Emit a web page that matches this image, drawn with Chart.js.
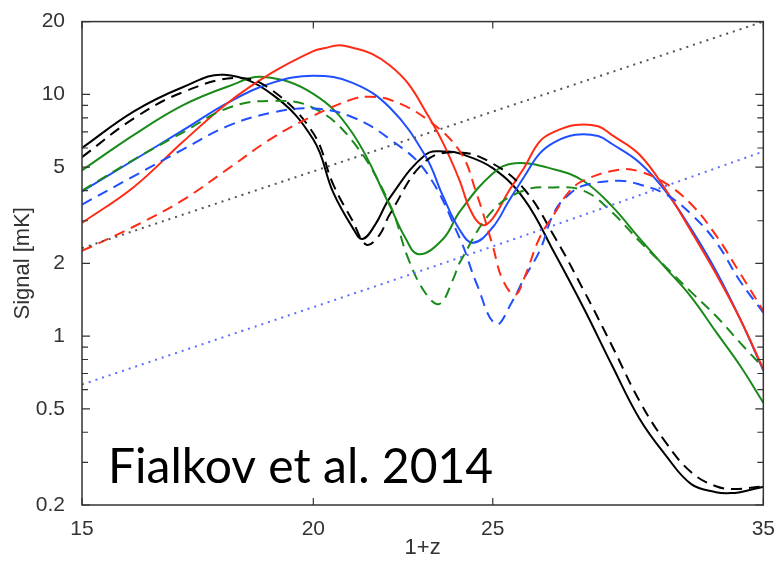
<!DOCTYPE html>
<html>
<head>
<meta charset="utf-8">
<script src="https://cdn.jsdelivr.net/npm/chart.js@4.4.1/dist/chart.umd.min.js"></script>
<style>
  html, body { margin: 0; padding: 0; background: #fff; }
  #wrap { width: 779px; height: 561px; }
</style>
</head>
<body>
<div id="wrap"><canvas id="my-chart" width="779" height="561"></canvas></div>
<script>
// tick labels
const xTicks = [15, 20, 25, 35];
const yTicks = [0.2, 0.5, 1, 2, 5, 10, 20];
const yMinorTicks = [0.3, 0.4, 0.6, 0.7, 0.8, 0.9, 3, 4, 6, 7, 8, 9];

// black
const blackSolidX = [15, 16, 17, 17.9, 19, 20, 20.5, 21, 21.26, 21.6, 22, 23, 23.6, 24, 25, 26, 27, 28, 29, 30, 31, 32, 33, 33.6, 34, 35];
const blackSolidY = [6.0, 8.5, 10.7, 12.05, 10.0, 6.5, 3.93, 2.81, 2.52, 2.89, 3.74, 5.64, 5.8, 5.69, 4.95, 3.68, 2.2, 1.3, 0.755, 0.456, 0.321, 0.244, 0.226, 0.224, 0.226, 0.238];
const blackDashX = [15, 16, 17, 18.2, 19, 20, 20.5, 21, 21.36, 21.7, 22, 23, 24, 25, 26, 27, 28, 29, 30, 31, 32, 33, 33.8, 35];
const blackDashY = [5.5, 7.96, 10.2, 11.7, 10.4, 6.9, 4.24, 3.0, 2.39, 2.6, 3.2, 5.3, 5.75, 5.17, 4.05, 2.57, 1.54, 0.91, 0.54, 0.363, 0.273, 0.239, 0.233, 0.239];

// green
const greenSolidX = [15, 16, 17, 18, 18.8, 20, 21, 22, 22.4, 22.8, 23.5, 24, 25, 25.7, 27, 28, 29, 30, 31, 32, 33, 34, 35];
const greenSolidY = [4.85, 6.8, 9.0, 10.8, 11.8, 10.05, 6.9, 3.45, 2.59, 2.18, 2.52, 3.28, 4.71, 5.19, 4.89, 4.37, 3.44, 2.54, 1.91, 1.45, 1.04, 0.755, 0.53];
const greenDashX = [15, 16, 17, 18, 19, 20, 21, 22, 22.5, 23, 23.4, 23.8, 24, 25, 26, 26.9, 28, 29, 30, 31, 32, 33, 34, 35];
const greenDashY = [4.0, 5.37, 6.95, 8.8, 9.4, 8.8, 6.4, 3.5, 2.1, 1.5, 1.36, 1.72, 2.02, 3.31, 4.01, 4.12, 3.99, 3.25, 2.47, 1.93, 1.52, 1.21, 0.94, 0.74];

// blue
const blueSolidX = [15, 16, 17, 18, 19, 20, 21, 22, 23, 23.5, 24, 24.4, 25, 25.5, 26, 26.5, 27, 27.7, 28.5, 29, 30, 31, 32, 33, 34, 35];
const blueSolidY = [3.97, 5.35, 7.09, 9.27, 11.16, 11.93, 11.16, 8.8, 5.53, 3.79, 2.74, 2.43, 2.82, 3.61, 4.57, 5.69, 6.35, 6.8, 6.72, 6.23, 5.23, 3.97, 2.77, 1.86, 1.18, 0.72];
const blueDashX = [15, 16, 17, 18, 19, 20, 21, 22, 23, 24, 24.5, 25.1, 25.6, 26, 26.5, 27, 27.5, 28, 29.25, 30, 31, 32, 33, 34, 35];
const blueDashY = [3.5, 4.59, 5.91, 7.42, 8.4, 8.74, 8.04, 6.52, 4.8, 2.53, 1.65, 1.12, 1.38, 1.74, 2.25, 3.28, 3.86, 4.2, 4.39, 4.24, 3.86, 3.19, 2.45, 1.69, 1.25];

// red
const redSolidX = [15, 16, 17, 18, 19, 20, 20.3, 20.65, 21, 21.5, 22, 22.5, 23, 23.5, 24, 24.3, 24.67, 25, 25.5, 26, 26.5, 27, 27.7, 28.5, 29, 30, 31, 32, 33, 34, 35];
const redSolidY = [2.94, 4.14, 6.35, 9.28, 12.3, 15.1, 15.56, 15.96, 15.6, 14.74, 13.16, 11.1, 8.48, 6.3, 4.37, 3.35, 2.88, 3.07, 3.97, 4.98, 6.38, 7.01, 7.47, 7.38, 6.78, 5.64, 4.03, 2.71, 1.81, 1.18, 0.73];
const redDashX = [15, 16, 17, 18, 19, 20, 21, 21.4, 22, 23, 24, 24.5, 25, 25.3, 25.7, 26, 26.5, 27, 27.5, 28, 29.25, 30, 31, 32, 33, 34, 35];
const redDashY = [2.25, 2.84, 3.65, 4.94, 6.59, 8.16, 9.56, 9.78, 9.5, 7.95, 5.8, 3.89, 2.36, 1.72, 1.48, 1.74, 2.55, 3.22, 3.97, 4.41, 4.88, 4.8, 4.28, 3.51, 2.61, 1.82, 1.27];

// dotted reference lines
const blackDotX = [15, 25, 35];
const blackDotY = [2.31, 8.48, 20];
const blueDotX = [15, 25, 35];
const blueDotY = [0.63, 2.35, 5.8];

const pts = (xs, ys) => xs.map((x, i) => ({ x: x, y: ys[i] }));

function line(xs, ys, color, dash, width) {
  return {
    data: pts(xs, ys),
    borderColor: color,
    borderWidth: width || 2,
    borderDash: dash || [],
    pointRadius: 0,
    fill: false,
    tension: 0.4,
  };
}

const DASH = [11, 7];
const DOT = [2, 5];

const boxPlugin = {
  id: "box",
  afterDatasetsDraw(chart) {
    const { ctx, chartArea: a, scales } = chart;
    ctx.save();
    ctx.strokeStyle = "#333";
    ctx.lineWidth = 1.5;
    ctx.strokeRect(a.left, a.top, a.right - a.left, a.bottom - a.top);
    ctx.lineWidth = 1.2;
    ctx.beginPath();
    yTicks.forEach((v) => {
      const y = scales.y.getPixelForValue(v);
      ctx.moveTo(a.left, y); ctx.lineTo(a.left + 8, y);
      ctx.moveTo(a.right, y); ctx.lineTo(a.right - 8, y);
    });
    yMinorTicks.forEach((v) => {
      const y = scales.y.getPixelForValue(v);
      ctx.moveTo(a.left, y); ctx.lineTo(a.left + 6, y);
      ctx.moveTo(a.right, y); ctx.lineTo(a.right - 6, y);
    });
    xTicks.forEach((v) => {
      const x = scales.x.getPixelForValue(v);
      ctx.moveTo(x, a.bottom); ctx.lineTo(x, a.bottom - 7);
      ctx.moveTo(x, a.top); ctx.lineTo(x, a.top + 7);
    });
    ctx.stroke();
    ctx.restore();
  },
  afterDraw(chart) {
    const ctx = chart.ctx;
    ctx.save();
    ctx.fillStyle = "#000";
    ctx.font = "48px Lato";
    ctx.textBaseline = "alphabetic";
    ctx.fillText("Fialkov et al. 2014", 108, 483);
    ctx.restore();
  },
};

const axisFont = { family: "Liberation Sans", size: 21 };
const titleFont = { family: "Liberation Sans", size: 22 };

new Chart(document.getElementById("my-chart"), {
  type: "line",
  data: {
    datasets: [
      line(blackDotX, blackDotY, "#555", DOT, 2),
      line(blueDotX, blueDotY, "#5b6cff", DOT, 2),
      line(redDashX, redDashY, "#ff2b14", DASH),
      line(blueDashX, blueDashY, "#1f4fff", DASH),
      line(greenDashX, greenDashY, "#1a8a1a", DASH),
      line(blackDashX, blackDashY, "#000", DASH),
      line(redSolidX, redSolidY, "#ff2b14"),
      line(blueSolidX, blueSolidY, "#1f4fff"),
      line(greenSolidX, greenSolidY, "#1a8a1a"),
      line(blackSolidX, blackSolidY, "#000"),
    ],
  },
  options: {
    responsive: false,
    animation: false,
    events: [],
    layout: { padding: { top: 20, right: 14, left: 0, bottom: 0 } },
    plugins: { legend: { display: false }, tooltip: { enabled: false } },
    scales: {
      x: {
        type: "logarithmic",
        min: 15,
        max: 35,
        afterBuildTicks: (s) => { s.ticks = xTicks.map((v) => ({ value: v })); },
        afterFit: (s) => { s.height = 56; },
        grid: { display: false },
        border: { display: false },
        ticks: {
          autoSkip: false,
          maxRotation: 0,
          padding: 4,
          color: "#333",
          font: axisFont,
          callback: (v) => String(v),
        },
        title: {
          display: true,
          text: "1+z",
          color: "#333",
          padding: { top: 0, bottom: 0 },
          font: titleFont,
        },
      },
      y: {
        type: "logarithmic",
        min: 0.2,
        max: 20,
        afterBuildTicks: (s) => { s.ticks = yTicks.map((v) => ({ value: v })); },
        afterFit: (s) => { s.width = 82; },
        grid: { display: false },
        border: { display: false },
        ticks: {
          autoSkip: false,
          padding: 9,
          color: "#333",
          font: axisFont,
          callback: (v) => String(v),
        },
        title: {
          display: true,
          text: "Signal [mK]",
          color: "#333",
          padding: { top: 10, bottom: 0 },
          font: titleFont,
        },
      },
    },
  },
  plugins: [boxPlugin],
});
</script>
</body>
</html>
